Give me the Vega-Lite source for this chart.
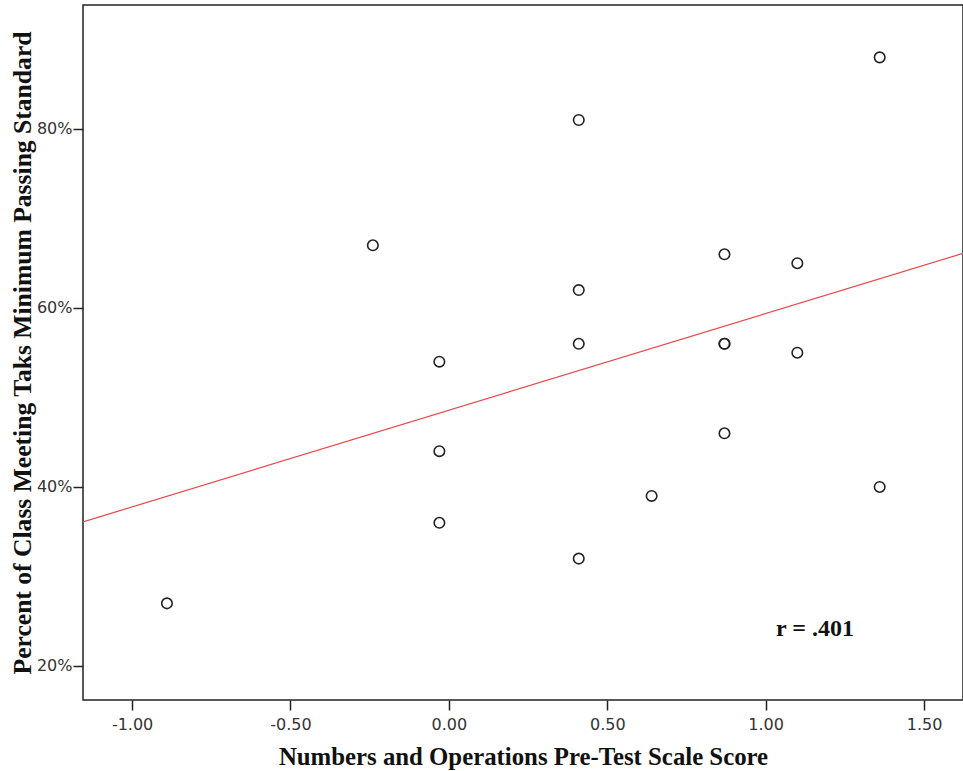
{
  "$schema": "https://vega.github.io/schema/vega-lite/v6.json",
  "width": 880,
  "height": 695,
  "autosize": {"type": "none"},
  "padding": {"left": 83, "top": 5, "right": 0, "bottom": 71},
  "background": "white",
  "config": {
    "view": {"stroke": "#222222", "strokeWidth": 1.5},
    "axis": {
      "grid": false,
      "domain": false,
      "tickColor": "#222222",
      "tickWidth": 1.5,
      "tickSize": 10,
      "labelFont": "DejaVu Sans",
      "labelFontSize": 16,
      "labelColor": "#333333",
      "titleFont": "Liberation Serif",
      "titleFontWeight": "bold",
      "titleColor": "#111111"
    }
  },
  "datasets": {
    "points": [
      {"score": -0.89, "pct": 27},
      {"score": -0.24, "pct": 67},
      {"score": -0.03, "pct": 54},
      {"score": -0.03, "pct": 44},
      {"score": -0.03, "pct": 36},
      {"score": 0.41, "pct": 81},
      {"score": 0.41, "pct": 62},
      {"score": 0.41, "pct": 56},
      {"score": 0.41, "pct": 32},
      {"score": 0.64, "pct": 39},
      {"score": 0.87, "pct": 66},
      {"score": 0.87, "pct": 56},
      {"score": 0.87, "pct": 56},
      {"score": 0.87, "pct": 46},
      {"score": 1.10, "pct": 65},
      {"score": 1.10, "pct": 55},
      {"score": 1.36, "pct": 88},
      {"score": 1.36, "pct": 40}
    ],
    "fit": [
      {"score": -1.155, "pct": 36.1},
      {"score": 1.623, "pct": 66.1}
    ],
    "note": [
      {"score": 1.033, "pct": 23.35, "label": "r = .401"}
    ]
  },
  "layer": [
    {
      "data": {"name": "fit"},
      "mark": {"type": "line", "color": "#e8474a", "strokeWidth": 1.2, "clip": true},
      "encoding": {
        "x": {
          "field": "score", "type": "quantitative",
          "scale": {"domain": [-1.155, 1.623], "nice": false, "zero": false},
          "axis": {
            "values": [-1, -0.5, 0, 0.5, 1, 1.5],
            "labelExpr": "(datum.value < 0 ? '-' : '') + format(abs(datum.value), '.2f')",
            "labelPadding": 6,
            "title": "Numbers and Operations Pre-Test Scale Score",
            "titleFontSize": 24.8,
            "titleBaseline": "alphabetic",
            "titleY": 64
          }
        },
        "y": {
          "field": "pct", "type": "quantitative",
          "scale": {"domain": [16.2, 93.85], "nice": false, "zero": false},
          "axis": {
            "values": [20, 40, 60, 80],
            "labelExpr": "datum.value + '%'",
            "labelPadding": 1,
            "title": "Percent of Class Meeting Taks Minimum Passing Standard",
            "titleFontSize": 25.6,
            "titleBaseline": "alphabetic",
            "titleX": -53
          }
        }
      }
    },
    {
      "data": {"name": "points"},
      "mark": {"type": "point", "shape": "circle", "filled": false, "size": 110, "stroke": "#222222", "strokeWidth": 1.6, "opacity": 1},
      "encoding": {
        "x": {"field": "score", "type": "quantitative"},
        "y": {"field": "pct", "type": "quantitative"}
      }
    },
    {
      "data": {"name": "note"},
      "mark": {"type": "text", "align": "left", "baseline": "alphabetic", "font": "Liberation Serif", "fontWeight": "bold", "fontSize": 24, "color": "#111111"},
      "encoding": {
        "x": {"field": "score", "type": "quantitative"},
        "y": {"field": "pct", "type": "quantitative"},
        "text": {"field": "label"}
      }
    }
  ]
}
